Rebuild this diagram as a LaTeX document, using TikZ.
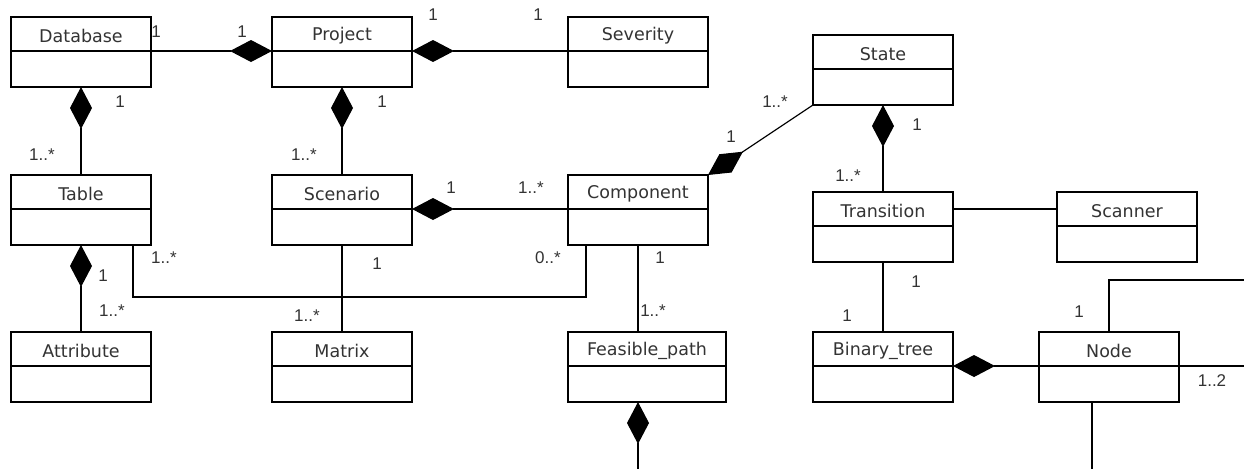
\documentclass[tikz,border=0pt]{standalone}
\usepackage{fontspec}
\setmainfont{DejaVu Sans}
\newfontfamily\multfamily{Liberation Sans}
\usetikzlibrary{arrows.meta}

\definecolor{inkgray}{HTML}{333333}
\newcommand\namefont{\fontsize{17.5}{20}\selectfont}
\newcommand\multfont{\multfamily\fontsize{17}{20}\selectfont}

% class box: name, centre, width, title
\newcommand\umlclass[4]{%
  \node[cls, minimum width=#3] (#1) at (#2) {};
  \node[hdr, minimum width=#3, anchor=north] (#1-h) at (#1.north) {};
  \node[title] (#1-t) at ([yshift=-2pt]#1-h.center) {#4};
  \draw[conn] (#1-h.south west) -- (#1-h.south east);
}

\tikzset{
  cls/.style={draw, line width=1.2pt, minimum height=70pt, inner sep=0pt, outer sep=0pt},
  hdr/.style={minimum height=34pt, inner sep=0pt, outer sep=0pt},
  title/.style={inner sep=0pt, font=\namefont, text=inkgray},
  mult/.style={font=\multfont, text=inkgray, inner sep=0pt},
  conn/.style={line width=1.2pt},
  comp/.style={conn, {Diamond[length=42pt,width=22pt]}-},
}

\begin{document}
\begin{tikzpicture}[x=1pt,y=-1pt]
\useasboundingbox (0,0) rectangle (1244,469);
\fill[white] (0,0) rectangle (1244,469);

% classes
\umlclass{db}{81,52}{140pt}{Database}
\umlclass{pj}{342,52}{140pt}{Project}
\umlclass{sv}{638,52}{140pt}{Severity}
\umlclass{st}{883,70}{140pt}{State}
\umlclass{tb}{81,210}{140pt}{Table}
\umlclass{sc}{342,210}{140pt}{Scenario}
\umlclass{cp}{638,210}{140pt}{Component}
\umlclass{tr}{883,227}{140pt}{Transition}
\umlclass{sn}{1127,227}{140pt}{Scanner}
\umlclass{at}{81,367}{140pt}{Attribute}
\umlclass{mx}{342,367}{140pt}{Matrix}
\umlclass{fp}{647,367}{158pt}{Feasible\_path}
\umlclass{bt}{883,367}{140pt}{Binary\_tree}
\umlclass{nd}{1109,367}{140pt}{Node}

% route points and free ends
\coordinate (tcA) at (133,297);
\coordinate (tcB) at (586,297);
\coordinate (fpout) at (638,469);
\coordinate (ndup) at (1244,280);
\coordinate (ndright) at (1244,366);
\coordinate (nddown) at (1092,469);

% associations
\draw[comp] (pj-h.south west) -- (db-h.south east);
\draw[comp] (pj-h.south east) -- (sv-h.south west);
\draw[comp] (db.south) -- (tb.north);
\draw[comp] (pj.south) -- (sc.north);
\draw[comp] (sc-h.south east) -- (cp-h.south west);
\draw[comp] (cp.north east) -- (st.south west);
\draw[comp] (st.south) -- (tr.north);
\draw[conn] (tr-h.east) -- (sn-h.west);
\draw[comp] (tb.south) -- (at.north);
\draw[conn] (tb.south -| tcA) -- (tcA) -- (tcB) -- (cp.south -| tcB);
\draw[conn] (sc.south) -- (mx.north);
\draw[conn] (cp.south) -- (cp.south |- fp.north);
\draw[comp] (fpout |- fp.south) -- (fpout);
\draw[conn] (tr.south) -- (bt.north);
\draw[comp] (bt-h.south east) -- (nd-h.south west);
\draw[conn] (nd.north) |- (ndup);
\draw[conn] (nd-h.south east) -- (ndright);
\draw[conn] (nddown |- nd.south) -- (nddown);

% multiplicities
\node[mult] (m1) at (156,32) {1};
\node[mult] (m2) at (242,32) {1};
\node[mult] (m3) at (433,15) {1};
\node[mult] (m4) at (538,15) {1};
\node[mult] (m5) at (120,102) {1};
\node[mult] (m6) at (42,155) {1..*};
\node[mult] (m7) at (382,102) {1};
\node[mult] (m8) at (304,155) {1..*};
\node[mult] (m9) at (775,102) {1..*};
\node[mult] (m10) at (731,137) {1};
\node[mult] (m11) at (451,188) {1};
\node[mult] (m12) at (531,188) {1..*};
\node[mult] (m13) at (917,125) {1};
\node[mult] (m14) at (848,176) {1..*};
\node[mult] (m15) at (164,258) {1..*};
\node[mult] (m16) at (103,276) {1};
\node[mult] (m17) at (112,311) {1..*};
\node[mult] (m18) at (377,264) {1};
\node[mult] (m19) at (307,316) {1..*};
\node[mult] (m20) at (548,258) {0..*};
\node[mult] (m21) at (660,258) {1};
\node[mult] (m22) at (653,311) {1..*};
\node[mult] (m23) at (916,282) {1};
\node[mult] (m24) at (847,316) {1};
\node[mult] (m25) at (1079,312) {1};
\node[mult] (m26) at (1212,381) {1..2};
\end{tikzpicture}
\end{document}
